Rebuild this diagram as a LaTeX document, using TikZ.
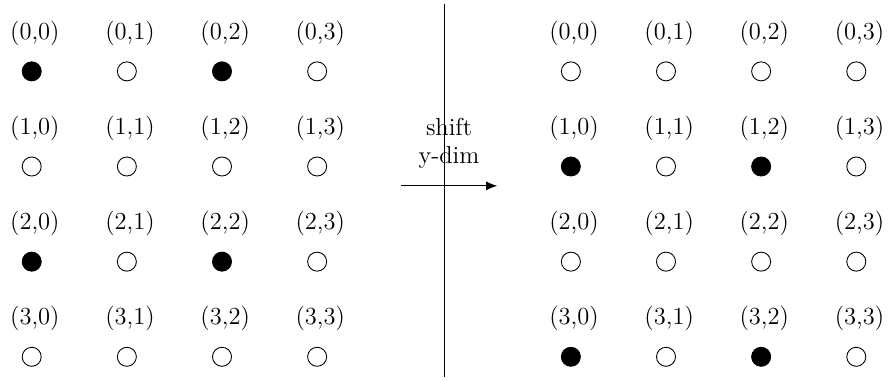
\documentclass[tikz,border=0pt]{standalone}
\usepackage{tikz}
\usetikzlibrary{arrows.meta,positioning}

\begin{document}
\begin{tikzpicture}[
    font=\fontsize{11}{12.5}\selectfont,
    dot/.style={circle, draw, minimum size=0.3cm, inner sep=0pt},
    full/.style={dot, fill=black},
    idx/.style={inner sep=0pt},
    arr/.style={-{Latex[length=5pt,width=4pt]}}
]
\useasboundingbox (0,0) rectangle (14,-6);

% left grid
\foreach \i in {0,...,3} {
  \foreach \j in {0,...,3} {
    \pgfmathparse{int(mod(\i,2)==0 && mod(\j,2)==0)}
    \ifnum\pgfmathresult=1
      \node[full] (l\i\j) at ({0.5+1.5*\j},{-1.125-1.5*\i}) {};
    \else
      \node[dot] (l\i\j) at ({0.5+1.5*\j},{-1.125-1.5*\i}) {};
    \fi
    \node[idx] (lt\i\j) at ([xshift=0.05cm,yshift=0.6cm]l\i\j.center) {(\i,\j)};
  }
}

% right grid
\foreach \i in {0,...,3} {
  \foreach \j in {0,...,3} {
    \pgfmathparse{int(mod(\i,2)==1 && mod(\j,2)==0)}
    \ifnum\pgfmathresult=1
      \node[full] (r\i\j) at ({9+1.5*\j},{-1.125-1.5*\i}) {};
    \else
      \node[dot] (r\i\j) at ({9+1.5*\j},{-1.125-1.5*\i}) {};
    \fi
    \node[idx] (rt\i\j) at ([xshift=0.05cm,yshift=0.6cm]r\i\j.center) {(\i,\j)};
  }
}

\coordinate (top) at (7,-0.07);
\coordinate (bot) at (7,-5.95);
\draw (top) -- (bot);

\coordinate (from) at (6.32,-2.93);
\coordinate (to) at (7.84,-2.93);
\draw[arr] (from) -- node[above, align=center, inner sep=0pt, yshift=0.27cm] {shift\\y-dim} (to);
\end{tikzpicture}
\end{document}
